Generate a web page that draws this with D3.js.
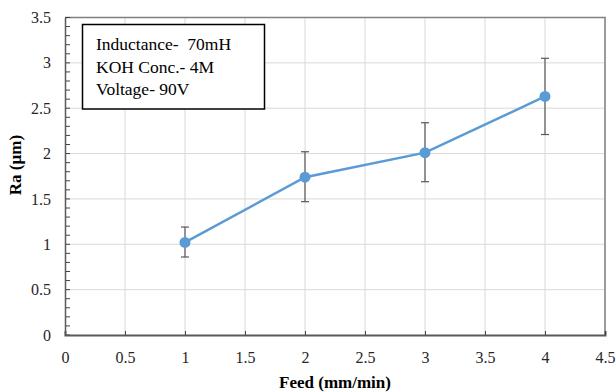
<!DOCTYPE html>
<html>
<head>
<meta charset="utf-8">
<script src="https://cdn.jsdelivr.net/npm/d3@7"></script>
<style>
  body { margin: 0; background: #fff; }
  svg text { font-family: "Liberation Serif", "DejaVu Serif", serif !important; white-space: pre; }
</style>
</head>
<body>
<figure id="chart" style="margin:0"></figure>
<script>
// data
const feed = [1, 2, 3, 4];
const ra = [1.02, 1.74, 2.01, 2.63];
const errHigh = [1.19, 2.02, 2.34, 3.05];
const errLow = [0.86, 1.47, 1.69, 2.21];
const xTicks = [0, 0.5, 1, 1.5, 2, 2.5, 3, 3.5, 4, 4.5];
const yTicks = [0, 0.5, 1, 1.5, 2, 2.5, 3, 3.5];
const noteLines = ['Inductance-  70mH', 'KOH Conc.- 4M', 'Voltage- 90V'];

const serif = '"Liberation Serif", "DejaVu Serif", serif';

const dimensions = {
  width: 616,
  height: 392,
  margin: { top: 17.5, right: 11, bottom: 57, left: 65 },
};
dimensions.boundedWidth = dimensions.width - dimensions.margin.left - dimensions.margin.right;
dimensions.boundedHeight = dimensions.height - dimensions.margin.top - dimensions.margin.bottom;

const svg = d3.select('figure#chart')
  .append('svg')
  .attr('width', dimensions.width)
  .attr('height', dimensions.height)
  .attr('font-family', serif);

const g = svg.append('g')
  .attr('transform', `translate(${dimensions.margin.left}, ${dimensions.margin.top})`);

const xScale = d3.scaleLinear().domain([0, 4.5]).range([0, dimensions.boundedWidth]);
const yScale = d3.scaleLinear().domain([0, 3.5]).range([dimensions.boundedHeight, 0]);

// gridlines
g.append('g')
  .selectAll('line')
  .data(xTicks.slice(1))
  .join('line')
  .attr('x1', d => xScale(d)).attr('x2', d => xScale(d))
  .attr('y1', 0).attr('y2', dimensions.boundedHeight)
  .attr('stroke', '#d9d9d9');
g.append('g')
  .selectAll('line')
  .data(yTicks.slice(1))
  .join('line')
  .attr('x1', 0).attr('x2', dimensions.boundedWidth)
  .attr('y1', d => yScale(d)).attr('y2', d => yScale(d))
  .attr('stroke', '#d9d9d9');

// plot border (top + right)
g.append('path')
  .attr('d', `M0,0H${dimensions.boundedWidth}V${dimensions.boundedHeight}`)
  .attr('fill', 'none')
  .attr('stroke', '#808080')
  .attr('stroke-width', 1.5);

// minor ticks on y axis, inside
const minor = d3.range(0, 36).map(i => i / 10);
g.append('g')
  .selectAll('line')
  .data(minor)
  .join('line')
  .attr('x1', 0).attr('x2', 5)
  .attr('y1', d => yScale(d)).attr('y2', d => yScale(d))
  .attr('stroke', '#404040');

// x axis
const xAxis = g.append('g')
  .attr('transform', `translate(0,${dimensions.boundedHeight})`)
  .call(d3.axisBottom(xScale).tickValues(xTicks).tickSize(-4).tickPadding(17).tickFormat(d3.format('')));
xAxis.attr('font-family', serif);
xAxis.select('.domain').attr('stroke', '#595959').attr('stroke-width', 2);
xAxis.selectAll('.tick line').attr('stroke', '#404040');
xAxis.selectAll('text').attr('font-size', 16).attr('fill', '#262626');

// y axis
const yAxis = g.append('g')
  .call(d3.axisLeft(yScale).tickValues(yTicks).tickSize(0).tickPadding(14).tickFormat(d3.format('')));
yAxis.attr('font-family', serif);
yAxis.select('.domain').attr('stroke', '#595959').attr('stroke-width', 1.5);
yAxis.selectAll('text').attr('font-size', 16).attr('fill', '#262626');

// error bars
const err = g.append('g').attr('stroke', '#595959').attr('stroke-width', 1.2);
err.selectAll('.v')
  .data(feed)
  .join('line')
  .attr('x1', d => xScale(d)).attr('x2', d => xScale(d))
  .attr('y1', (d, i) => yScale(errLow[i])).attr('y2', (d, i) => yScale(errHigh[i]));
err.selectAll('.hi')
  .data(feed)
  .join('line')
  .attr('x1', d => xScale(d) - 4).attr('x2', d => xScale(d) + 4)
  .attr('y1', (d, i) => yScale(errHigh[i])).attr('y2', (d, i) => yScale(errHigh[i]));
err.selectAll('.lo')
  .data(feed)
  .join('line')
  .attr('x1', d => xScale(d) - 4).attr('x2', d => xScale(d) + 4)
  .attr('y1', (d, i) => yScale(errLow[i])).attr('y2', (d, i) => yScale(errLow[i]));

// line + markers
const line = d3.line()
  .x(d => xScale(d[0]))
  .y(d => yScale(d[1]));
g.append('path')
  .datum(feed.map((f, i) => [f, ra[i]]))
  .attr('d', line)
  .attr('fill', 'none')
  .attr('stroke', '#5b9bd5')
  .attr('stroke-width', 2.5);
g.selectAll('circle')
  .data(feed)
  .join('circle')
  .attr('cx', d => xScale(d))
  .attr('cy', (d, i) => yScale(ra[i]))
  .attr('r', 5.5)
  .attr('fill', '#5b9bd5');

// note box
svg.append('rect')
  .attr('x', 82.5).attr('y', 24.5)
  .attr('width', 182).attr('height', 84.5)
  .attr('fill', '#fff')
  .attr('stroke', '#000')
  .attr('stroke-width', 1.5);
svg.append('g')
  .selectAll('text')
  .data(noteLines)
  .join('text')
  .attr('x', 96)
  .attr('y', (d, i) => 50 + i * 22.5)
  .attr('font-size', 17.5)
  .attr('fill', '#000')
  .text(d => d);

// axis titles
svg.append('text')
  .attr('x', 335).attr('y', 388)
  .attr('text-anchor', 'middle')
  .attr('font-size', 17)
  .attr('font-weight', 'bold')
  .text('Feed (mm/min)');
svg.append('text')
  .attr('transform', 'translate(21,165) rotate(-90)')
  .attr('text-anchor', 'middle')
  .attr('font-size', 17)
  .attr('font-weight', 'bold')
  .text('Ra (µm)');
</script>
</body>
</html>
